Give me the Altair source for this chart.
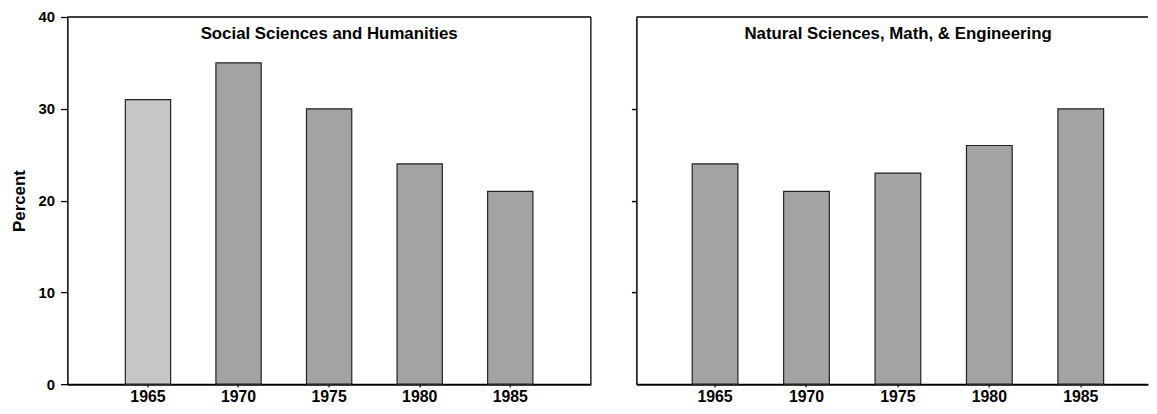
import altair as alt
import pandas as pd

years = ["1965", "1970", "1975", "1980", "1985"]
social_pct = [31, 35, 30, 24, 21]
natural_pct = [24, 21, 23, 26, 30]
panel_titles = ["Social Sciences and Humanities", "Natural Sciences, Math, & Engineering"]
y_ticks = [0, 10, 20, 30, 40]

FONT = "Liberation Sans"
H = 371
W_LEFT = 529
W_RIGHT = 517
DARK = "#a3a3a3"
LIGHT = "#c6c6c6"

df_left = pd.DataFrame({"Year": years, "Percent": social_pct})
df_right = pd.DataFrame({"Year": years, "Percent": natural_pct})
one_row = pd.DataFrame({"t": [0]})

x_axis = alt.Axis(
    title=None, labelAngle=0, labelFont=FONT, labelFontSize=16, labelFontWeight="bold",
    labelColor="black", labelPadding=2, tickSize=3, tickColor="black", tickWidth=1.2,
    domainColor="black", domainWidth=2,
)

left_bars = alt.Chart(df_left).mark_bar(stroke="#222222", strokeWidth=1.2).encode(
    x=alt.X("Year:N", sort=years, axis=x_axis,
            scale=alt.Scale(paddingInner=0.5, paddingOuter=0.64, align=0.5)),
    y=alt.Y("Percent:Q", scale=alt.Scale(domain=[0, 40], nice=False),
            axis=alt.Axis(values=y_ticks, grid=False, title="Percent",
                          titleFont=FONT, titleFontSize=17, titleFontWeight="bold",
                          titleColor="black", titlePadding=10,
                          labelFont=FONT, labelFontSize=15, labelFontWeight="bold",
                          labelColor="black", labelPadding=6, tickSize=7,
                          tickColor="black", tickWidth=1.3, domainColor="black",
                          domainWidth=1.5)),
    color=alt.condition(alt.datum.Year == "1965", alt.value(LIGHT), alt.value(DARK)),
)
left_title = alt.Chart(pd.DataFrame({"t": [panel_titles[0]]})).mark_text(
    font=FONT, fontSize=17, fontWeight="bold", color="black", baseline="alphabetic", align="center"
).encode(text="t:N", x=alt.value(W_LEFT / 2), y=alt.value(22.5))
left_top = alt.Chart(one_row).mark_rule(color="black", strokeWidth=1.5).encode(
    x=alt.value(0), x2=alt.value(W_LEFT), y=alt.value(0)
)
left_side = alt.Chart(one_row).mark_rule(color="black", strokeWidth=1.3).encode(
    x=alt.value(W_LEFT), y=alt.value(0), y2=alt.value(H)
)

left = alt.layer(left_bars, left_title, left_top, left_side).properties(width=W_LEFT, height=H)

right_bars = alt.Chart(df_right).mark_bar(stroke="#222222", strokeWidth=1.2, color=DARK).encode(
    x=alt.X("Year:N", sort=years, axis=x_axis,
            scale=alt.Scale(paddingInner=0.5, paddingOuter=0.548, align=0.557)),
    y=alt.Y("Percent:Q", scale=alt.Scale(domain=[0, 40], nice=False),
            axis=alt.Axis(values=[10, 20, 30], grid=False, title="", labels=False,
                          tickSize=5, tickColor="black", tickWidth=1.5,
                          domainColor="black", domainWidth=1.5)),
)
right_title = alt.Chart(pd.DataFrame({"t": [panel_titles[1]]})).mark_text(
    font=FONT, fontSize=17, fontWeight="bold", color="black", baseline="alphabetic", align="center"
).encode(text="t:N", x=alt.value(264.5), y=alt.value(22.5))
right_top = alt.Chart(one_row).mark_rule(color="black", strokeWidth=1.5).encode(
    x=alt.value(0), x2=alt.value(W_RIGHT), y=alt.value(0)
)

right = alt.layer(right_bars, right_title, right_top).properties(width=W_RIGHT, height=H)

chart = alt.hconcat(left, right, spacing=39).properties(
    padding={"left": 2, "top": 0, "right": 0, "bottom": 0},
    background="white",
).configure_view(strokeWidth=0)

chart.save("out.html", embed_options={"renderer": "svg", "actions": False})
